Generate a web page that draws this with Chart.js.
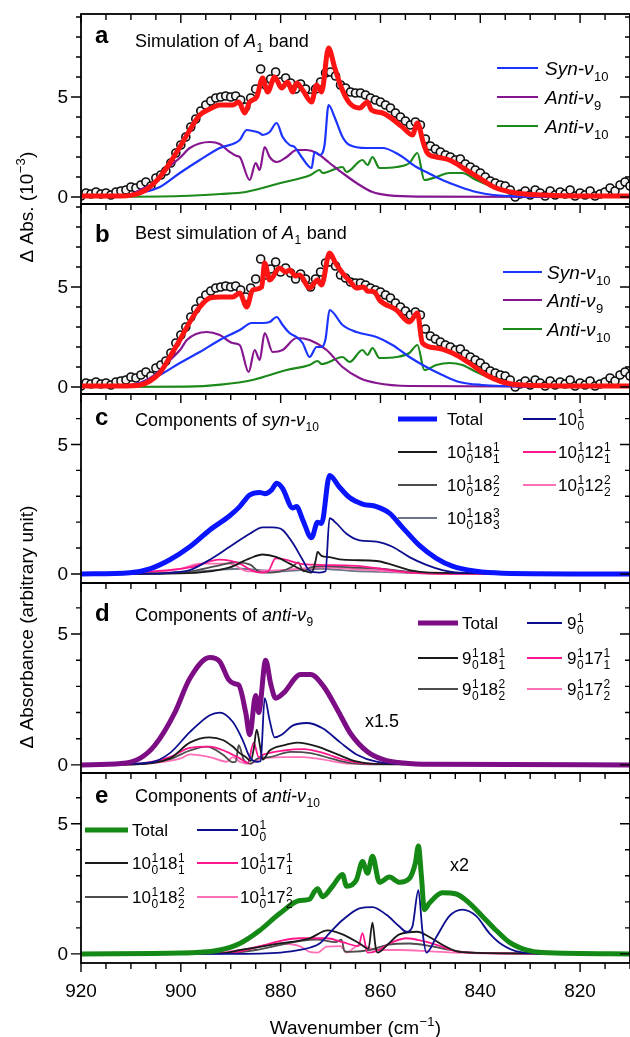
<!DOCTYPE html>
<html>
<head>
<meta charset="utf-8">
<script src="https://cdn.jsdelivr.net/npm/chart.js@4.4.1/dist/chart.umd.min.js"></script>
<style>
html, body { margin: 0; padding: 0; background: #fff; }
#wrap { position: relative; width: 630px; height: 1037px; overflow: hidden; }
#wrap canvas { position: absolute; left: 0; top: 0; }
</style>
</head>
<body>
<div id="wrap">
  <canvas id="pa" width="630" height="1037"></canvas>
  <canvas id="pb" width="630" height="1037"></canvas>
  <canvas id="pc" width="630" height="1037"></canvas>
  <canvas id="pd" width="630" height="1037"></canvas>
  <canvas id="pe" width="630" height="1037"></canvas>
</div>
<script>
// ---- data (wavenumber, value) ----
var xTickLabels = [920, 900, 880, 860, 840, 820];
var yTickLabels = [0, 5];

// experimental points, panels a and b
var expWn = [920,919,918,917,916,915,914,913,912,911,910,909,908,907,906,905,904,903,902,901,
  900,899,898,897,896,895,894,893,892,891,890,889,888,887,886,885,884,883,882,881,
  880,879,878,877,876,875,874,873,872,871,870,869,868,867,866,865,864,863,862,861,
  860,859,858,857,856,855,854,853,852,851,850,849,848,847,846,845,844,843,842,841,
  840,839,838,837,836,835,834,833,832,831,830,829,828,827,826,825,824,823,822,821,
  820,819,818,817,816,815,814,813,812,811,810];
var expAbs = [0.05,0.2,0.15,0.25,0.15,0.2,0.1,0.25,0.3,0.35,0.5,0.45,0.6,0.75,0.55,0.95,1.1,1.3,1.7,2.2,
  2.6,3.0,3.5,3.9,4.3,4.6,4.8,4.95,5.0,5.05,5.0,5.05,4.85,4.5,4.95,5.4,6.4,5.6,5.9,6.25,
  5.75,5.95,5.7,5.4,5.65,5.4,5.0,5.4,5.75,6.2,6.25,6.05,5.6,5.45,5.25,5.2,5.2,5.1,4.95,4.85,
  4.75,4.6,4.45,4.2,4.0,3.8,3.6,3.75,3.6,2.9,2.55,2.4,2.25,2.1,2.0,1.85,1.9,1.65,1.5,1.35,
  1.2,1.0,0.8,0.7,0.6,0.55,0.35,0.0,0.15,0.3,0.1,0.35,0.2,0.05,0.3,0.1,0.25,0.15,0.35,0.05,
  0.2,0.1,0.3,0.05,0.15,0.25,0.45,0.3,0.6,0.75,0.55];

// panel a
var aTotal = [[920,0.05],[912,0.05],[908.2,0.2],[906.2,0.5],[904.2,1.0],[902.2,1.7],[900.2,2.5],[898.2,3.35],[896.2,4.1],[894.2,4.4],[892.2,4.6],[889.6,4.6],[888.4,4.75],[887.2,4.2],[886.2,4.75],[884.8,5.0],[883.6,5.95],[882.6,5.25],[881.2,6.0],[879.8,5.45],[878.6,5.75],[877.6,5.25],[876.8,5.7],[875.6,5.35],[873.8,4.75],[872.8,5.6],[871.8,5.25],[870.4,7.45],[869.2,6.5],[867.8,5.45],[866.2,4.7],[864.2,4.45],[862.6,4.75],[861.8,4.35],[859.6,4.2],[855.6,3.5],[853.6,3.1],[852.6,3.7],[851.4,2.7],[850.6,2.2],[848.8,2.0],[846.2,1.85],[842.8,1.35],[839.6,0.85],[836.8,0.45],[832.8,0.2],[827.6,0.1],[820,0.05],[810,0.05]];
var aSyn10 = [[920,0],[912,0.03],[908.2,0.2],[904.2,0.5],[900.2,1.2],[896.2,1.85],[892.2,2.45],[888.2,2.85],[886.8,3.35],[885.6,3.3],[884.2,3.2],[883.6,3.1],[882.2,3.25],[880.8,3.7],[879.6,3.0],[878.2,2.6],[877.2,2.5],[875.8,2.0],[873.8,1.45],[873.2,2.25],[872.2,2.1],[871.2,2.6],[870.4,4.6],[869.2,4.0],[867.6,3.0],[866.2,2.6],[862.8,2.45],[859.6,2.45],[856.2,2.1],[852.8,1.5],[850.8,1.25],[847.6,0.85],[844,0.5],[840.8,0.25],[837.4,0.1],[830,0.02],[810,0]];
var aAnti9 = [[920,0],[914,0.03],[910,0.15],[908.2,0.35],[905,0.8],[902.8,1.4],[900,2.0],[898.2,2.45],[894.2,2.75],[892.2,2.65],[890.2,2.25],[888.8,2.05],[888.2,2.0],[886.2,0.85],[885,1.7],[884.2,1.35],[883.2,2.5],[882.2,2.0],[880.8,1.75],[878.8,2.0],[876.8,2.35],[874.8,2.35],[872.8,2.2],[870.2,1.7],[867.6,1.2],[864.8,0.7],[861.6,0.25],[858.2,0.08],[852,0.02],[810,0]];
var aAnti10 = [[920,0],[900,0.05],[892,0.15],[887,0.25],[880,0.7],[874,1.1],[872.2,1.35],[871.6,1.2],[867.6,1.5],[866.8,1.25],[863.6,1.85],[862.6,1.6],[861.6,2.0],[860.2,1.45],[856.8,1.5],[854.2,1.7],[852.6,2.2],[851.2,0.85],[848.8,1.0],[846.2,1.2],[843.6,1.2],[840.8,0.85],[836.8,0.45],[832.8,0.2],[827.6,0.1],[810,0.02]];

// panel b
var bTotal = [[920,0.05],[912,0.05],[908.2,0.1],[906.2,0.3],[904.2,0.7],[902.2,1.5],[900.2,2.35],[898.2,3.25],[896.2,4.0],[894.2,4.45],[892,4.5],[889.6,4.5],[888.2,4.7],[886.8,4.0],[885.6,4.85],[883.8,5.0],[883.2,6.2],[882.2,5.35],[880.2,5.95],[879,5.75],[878.2,5.85],[877,5.55],[876.2,5.6],[874.2,4.95],[872.6,5.35],[871.8,5.1],[870.2,6.7],[869,6.2],[867.6,5.7],[866,5.25],[864.8,4.95],[863.4,5.0],[862.6,4.8],[861.2,4.75],[860.2,4.35],[856.8,3.85],[854.2,3.25],[852.6,3.7],[851.6,2.2],[848.8,1.95],[845.6,1.7],[842.2,1.2],[838.8,0.6],[835.6,0.25],[831.6,0.1],[820,0.05],[810,0.05]];
var bSyn10 = [[920,0],[912,0.03],[908.2,0.2],[904.2,0.6],[900.2,1.2],[896.2,1.75],[892.2,2.35],[888.2,2.85],[885.8,3.2],[883.6,3.2],[882.2,3.25],[880.8,3.5],[879.6,3.1],[878.2,2.7],[876.8,2.5],[875.6,2.2],[874.2,1.5],[872.8,2.0],[871.8,2.0],[871,2.4],[870.2,3.85],[867.6,3.1],[864.8,2.75],[860.8,2.5],[857.6,2.1],[854.2,1.5],[850.8,1.0],[847.6,0.6],[844.2,0.25],[839.6,0.1],[830,0.02],[810,0]];
var bAnti9 = [[920,0],[914,0.03],[910,0.1],[908.2,0.2],[905,0.65],[902.8,1.2],[900,1.9],[898.8,2.35],[894.8,2.75],[892.2,2.6],[889.6,2.2],[888.2,2.1],[886.4,0.75],[885.2,1.85],[884.2,1.35],[883.2,2.7],[881.6,1.75],[879.6,1.85],[876.8,2.45],[874.2,2.35],[870.8,1.85],[867.6,1.0],[864.2,0.45],[860.8,0.2],[854.2,0.05],[810,0]];
var bAnti10 = [[920,0],[898.8,0.02],[892,0.12],[885.6,0.35],[878.8,0.85],[874.2,1.1],[872.6,1.3],[871.8,1.15],[870.8,1.2],[867.6,1.5],[866.2,1.25],[863.6,1.85],[862.6,1.6],[861.6,1.95],[860.2,1.45],[856.8,1.5],[854.2,1.7],[852.6,2.1],[851.2,0.85],[848.8,1.1],[846.2,1.2],[843.6,1.1],[840.8,0.75],[836.8,0.35],[832.8,0.15],[830,0.1],[810,0.02]];

// panel c, components of syn-v10
var cTotal = [[920,0],[910.2,0.05],[906.2,0.2],[902.2,0.55],[898.2,1.05],[894.2,1.7],[890.2,2.25],[888.2,2.6],[886.2,3.05],[884.2,3.15],[883.2,3.1],[881.8,3.25],[880.8,3.5],[879.6,3.3],[877.6,2.55],[876.8,2.6],[875.6,2.1],[873.8,1.4],[872.6,2.0],[871.8,1.95],[870.2,3.8],[868.2,3.35],[866.2,2.95],[863.6,2.7],[860.8,2.6],[858.2,2.35],[855.6,1.8],[852.2,1.1],[848.8,0.6],[845.6,0.3],[840.8,0.1],[835.6,0.03],[810,0]];
var c10 = [[920,0],[905,0.01],[902,0.05],[898.2,0.15],[894.2,0.55],[890.2,1.05],[886.2,1.55],[883.6,1.8],[881.6,1.8],[879.6,1.7],[877.6,1.2],[875.6,0.55],[874.2,0.12],[872.2,0.05],[871,0.1],[870.2,2.15],[868.8,1.95],[866.8,1.55],[864.2,1.3],[860.8,1.25],[857.6,1.05],[854.2,0.65],[850.8,0.35],[847.6,0.15],[844.2,0.05],[810,0]];
var c18a = [[920,0],[900,0.02],[894.2,0.1],[890.2,0.25],[886.2,0.6],[883.6,0.75],[880.8,0.65],[878.2,0.4],[876.2,0.2],[873.8,0.05],[873,0.5],[872.6,0.85],[871.8,0.7],[870.2,0.65],[867.6,0.55],[860.8,0.5],[857.6,0.35],[854.2,0.15],[850.2,0.05],[810,0]];
var c18b = [[920,0],[905,0.02],[898,0.1],[893,0.3],[889,0.45],[886,0.35],[884.5,0.1],[883,0.05],[880,0.1],[877.5,0.3],[876.5,0.45],[875.4,0.1],[874,0.25],[871,0.3],[866,0.25],[860,0.2],[855,0.1],[850,0.03],[810,0]];
var c18c = [[920,0],[905,0.01],[900,0.05],[893,0.15],[888,0.2],[884,0.15],[880,0.1],[876,0.15],[872,0.2],[866,0.12],[860,0.08],[850,0.02],[810,0]];
var c12a = [[920,0],[910,0.05],[898.2,0.25],[892.2,0.55],[888.2,0.4],[885.4,0.1],[883.6,0.05],[882.5,0.1],[881,0.6],[879,0.55],[876.2,0.4],[872.2,0.35],[867,0.33],[864.2,0.3],[860.8,0.22],[854.2,0.05],[845,0],[810,0]];
var c12b = [[920,0],[910,0.02],[900,0.2],[896.2,0.4],[890.2,0.4],[886.6,0.1],[884,0.12],[880,0.15],[876,0.2],[872,0.25],[866,0.2],[860,0.12],[852,0.04],[845,0],[810,0]];

// panel d, components of anti-v9 (x1.5)
var dTotal = [[920,0],[912,0.05],[908.2,0.25],[905.2,0.75],[901.2,2.0],[898.2,3.3],[894.2,4.1],[892.2,3.95],[890.4,3.25],[889.2,3.1],[888.4,3.05],[887,2.0],[886.2,1.15],[885,2.65],[884.4,2.0],[883,4.0],[882,3.1],[881,2.55],[879.4,2.75],[876,3.45],[874,3.45],[871.4,3.0],[868.6,2.1],[866,1.2],[862.6,0.5],[859.4,0.2],[855.4,0.07],[850,0.02],[810,0]];
var d9 = [[920,0],[906,0.1],[902.2,0.45],[898.2,1.25],[894.2,1.9],[892.2,2.0],[889.6,1.65],[887.6,0.95],[886.2,0.3],[884.8,0.12],[884,0.15],[883.2,2.55],[882.2,1.7],[881.2,1.05],[879.8,1.15],[877.6,1.5],[874.8,1.6],[871.6,1.4],[868,0.85],[864.8,0.4],[860.8,0.12],[855,0.03],[810,0]];
var d18a = [[920,0],[910,0.02],[902.2,0.25],[898.2,0.85],[894.2,1.05],[891.6,0.95],[889.6,0.7],[888.2,0.45],[887,0.3],[886,0.15],[885.4,0.6],[884.8,1.35],[884.2,0.8],[883.6,0.2],[882.2,0.55],[879.4,0.75],[876.6,0.85],[872.6,0.7],[868.6,0.4],[864.6,0.12],[860,0.03],[810,0]];
var d18b = [[920,0],[910,0.02],[902.2,0.22],[898.2,0.55],[894.8,0.7],[891.6,0.4],[889.6,0.1],[889,0.12],[888.4,0.75],[887.4,0.2],[886,0.05],[884.6,0.25],[882.2,0.3],[878,0.5],[874,0.45],[870,0.25],[866,0.07],[860,0.02],[810,0]];
var d17a = [[920,0],[910,0.02],[902.2,0.3],[898.2,0.65],[894.2,0.7],[890.8,0.5],[888.2,0.25],[886.6,0.08],[885.4,0.85],[884.4,0.3],[883.4,0.4],[879.4,0.55],[875.4,0.6],[871.4,0.45],[867.4,0.2],[863,0.05],[810,0]];
var d17b = [[920,0],[910,0.02],[900,0.25],[898.2,0.4],[894.2,0.3],[890.8,0.12],[889.6,0.3],[888.2,0.12],[886.2,0.04],[884.2,0.22],[879.4,0.3],[875.4,0.3],[871.4,0.2],[866,0.05],[810,0]];

// panel e, components of anti-v10 (x2)
var eTotal = [[920,0],[900,0.03],[896.2,0.06],[892.2,0.15],[888.2,0.4],[884.2,0.9],[880.2,1.55],[876.2,2.05],[874.2,2.1],[873.2,2.4],[872.6,2.5],[871.6,2.2],[869.6,2.6],[867.6,3.05],[866.8,2.6],[864.8,2.85],[863.6,3.55],[862.6,3.1],[861.6,3.75],[860.2,2.75],[858.2,2.95],[856.2,2.75],[854.2,2.9],[853,3.5],[852.4,4.15],[851.8,3.0],[851.2,1.7],[850.2,1.95],[847.6,2.35],[844.8,2.3],[842.2,1.95],[839.6,1.45],[836.8,0.9],[834.2,0.45],[830.8,0.15],[827.6,0.05],[810,0]];
var e10 = [[920,0],[890,0],[880,0.05],[876.2,0.15],[872.2,0.4],[870.2,0.8],[867.6,1.3],[864.2,1.75],[861.6,1.8],[858.8,1.5],[856.2,1.05],[854.8,0.85],[853.6,1.05],[852.4,2.45],[851.6,0.9],[850.8,0.05],[848.8,0.65],[846.2,1.45],[843.6,1.7],[840.8,1.45],[838.2,0.8],[835.6,0.35],[832.2,0.08],[825,0],[810,0]];
var e18a = [[920,0],[892,0.02],[888,0.15],[880.2,0.4],[874.2,0.6],[870.6,0.9],[867.6,0.75],[864.2,0.4],[862.4,0.2],[861.6,1.2],[861,0.3],[860.6,0.05],[858.6,0.35],[856.2,0.75],[852.6,0.85],[850.2,0.65],[847.6,0.35],[844.2,0.08],[835,0.02],[810,0]];
var e18b = [[920,0],[892,0.02],[885,0.15],[880,0.35],[876,0.5],[872.6,0.55],[869,0.45],[867.8,0.55],[867.2,0.1],[866,0.08],[862,0.15],[858.6,0.35],[854.2,0.4],[850,0.3],[846,0.15],[842,0.05],[810,0]];
var e17a = [[920,0],[896,0.02],[888,0.1],[884,0.3],[880,0.5],[876.2,0.6],[870.8,0.6],[867.6,0.45],[864.4,0.3],[863.6,0.8],[862.6,0.05],[861,0.1],[857.6,0.45],[854.8,0.6],[851.6,0.5],[848.8,0.35],[844,0.08],[835,0.02],[810,0]];
var e17b = [[920,0],[896,0.02],[888,0.15],[880.2,0.4],[876.2,0.3],[874.2,0.08],[872.6,0.05],[870.8,0.28],[868,0.3],[866.8,0.05],[864.2,0.35],[860.8,0.15],[856,0.15],[850,0.1],[845,0.05],[835,0.01],[810,0]];

// ---- look ----
var FONT = '"Liberation Sans", Arial, Helvetica, sans-serif';
var H = 1037, LEFT = 81;
var RED = '#ff1414', BLUE = '#1c34ff', PURPLE = '#85168f', GREEN = '#1b8a1b';
var NAVY = '#0d0d8f', BLACK = '#1a1a1a', DGRAY = '#4d4d4d', SLATE = '#6c7486', MAG = '#ff168c', PINK = '#ff6fb7';
var TBLUE = '#0a14ff', TPURPLE = '#7c0d85', TGREEN = '#158915';

Chart.defaults.font.family = FONT;
Chart.defaults.color = '#000';

function pts(arr) {
    return arr.map(function(p) { return { x: p[0], y: p[1] }; });
}
function lineSet(arr, color, w, order) {
    return { data: pts(arr), borderColor: color, borderWidth: w, pointRadius: 0, fill: false,
        order: order, cubicInterpolationMode: 'monotone', borderJoinStyle: 'round', borderCapStyle: 'round' };
}
function expSet() {
    return {
        data: expWn.map(function(w, i) { return { x: w, y: expAbs[i] }; }),
        showLine: false, pointRadius: 4, pointBorderWidth: 1.6,
        pointBorderColor: '#0d0d0d', pointBackgroundColor: '#f2f2f2', order: 20
    };
}

// text with stacked sub/superscripts; parts: 'str' | {t, i} | {sup, sub}
function drawRich(ctx, parts, x, y, size, opt) {
    opt = opt || {};
    var cx = x;
    parts.forEach(function(p) {
        if (typeof p === 'string') p = { t: p };
        if (p.t) {
            ctx.font = (p.i ? 'italic ' : '') + (opt.bold ? 'bold ' : '') + size + 'px ' + FONT;
            if (!opt.measure) ctx.fillText(p.t, cx, y);
            cx += ctx.measureText(p.t).width;
        }
        if (p.sup || p.sub) {
            var s = Math.round(size * 0.68), w = 0;
            ctx.font = s + 'px ' + FONT;
            if (p.sup) {
                if (!opt.measure) ctx.fillText(p.sup, cx + 0.5, y - size * 0.42);
                w = Math.max(w, ctx.measureText(p.sup).width);
            }
            if (p.sub) {
                if (!opt.measure) ctx.fillText(p.sub, cx + 0.5, y + size * 0.3);
                w = Math.max(w, ctx.measureText(p.sub).width);
            }
            cx += w + 1;
        }
    });
    return cx - x;
}

var decorPlugin = {
    id: 'decor',
    afterDraw: function(chart, args, o) {
        var ctx = chart.ctx, a = chart.chartArea, xs = chart.scales.x, ys = chart.scales.y;
        ctx.save();
        ctx.strokeStyle = '#000';
        ctx.lineWidth = 1.8;
        ctx.strokeRect(a.left, a.top, a.right - a.left, a.bottom - a.top);
        ctx.lineWidth = 1.4;
        ctx.beginPath();
        for (var v = 810; v <= 920; v += 5) {
            var px = xs.getPixelForValue(v), L = (v % 20 === 0) ? 9 : 6;
            ctx.moveTo(px, a.top); ctx.lineTo(px, a.top + L);
            if (o.bottomTicks) { ctx.moveTo(px, a.bottom); ctx.lineTo(px, a.bottom + L); }
        }
        for (var t = Math.ceil(ys.min); t <= Math.floor(ys.max); t++) {
            var py = ys.getPixelForValue(t), M = (t % 5 === 0) ? 10 : 5;
            ctx.moveTo(a.left - M, py); ctx.lineTo(a.left, py);
            ctx.moveTo(a.right - M, py); ctx.lineTo(a.right, py);
        }
        ctx.stroke();

        // y tick labels, right-aligned left of the axis
        ctx.fillStyle = '#000';
        ctx.font = '19px ' + FONT;
        ctx.textAlign = 'right';
        ctx.textBaseline = 'middle';
        yTickLabels.forEach(function(v) {
            ctx.fillText(String(v), a.left - 13, ys.getPixelForValue(v) + 1);
        });
        ctx.textAlign = 'left';
        ctx.textBaseline = 'alphabetic';

        ctx.font = 'bold 24px ' + FONT;
        ctx.fillText(o.letter, 95, o.letterY);
        drawRich(ctx, o.title, 135, o.titleY, o.titleSize);

        (o.legend || []).forEach(function(e) {
            ctx.strokeStyle = e.color;
            ctx.lineWidth = e.w;
            ctx.beginPath();
            ctx.moveTo(e.x1, e.y); ctx.lineTo(e.x2, e.y);
            ctx.stroke();
            ctx.fillStyle = '#000';
            drawRich(ctx, e.label, e.tx, e.y + o.legSize * 0.36, o.legSize);
        });
        (o.notes || []).forEach(function(n) {
            ctx.font = n.size + 'px ' + FONT;
            ctx.fillText(n.text, n.x, n.y);
        });
        (o.yTitles || []).forEach(function(yt) {
            ctx.save();
            ctx.translate(yt.x, yt.y);
            ctx.rotate(-Math.PI / 2);
            var w = drawRich(ctx, yt.parts, 0, 0, 19, { measure: true });
            drawRich(ctx, yt.parts, -w / 2, 7, 19);
            ctx.restore();
        });
        if (o.xTitle) {
            var wx = drawRich(ctx, o.xTitle, 0, 0, 19, { measure: true });
            drawRich(ctx, o.xTitle, (a.left + a.right) / 2 - wx / 2, 1034, 19);
        }
        ctx.restore();
    }
};

function makeChart(id, p, datasets, decor) {
    var showX = !!p.showX;
    return new Chart(document.getElementById(id), {
        type: 'line',
        data: { datasets: datasets },
        options: {
            responsive: false, animation: false, devicePixelRatio: 1,
            layout: { autoPadding: false, padding: { top: p.top, bottom: showX ? 0 : H - p.bottom, left: 0, right: 0 } },
            plugins: { legend: { display: false }, tooltip: { enabled: false }, decor: decor },
            scales: {
                x: {
                    type: 'linear', reverse: true, min: 810, max: 920, display: showX,
                    grid: { display: false, drawTicks: false }, border: { display: false },
                    ticks: { font: { size: 19 }, color: '#000', padding: 17, maxRotation: 0 },
                    afterBuildTicks: function(s) { s.ticks = xTickLabels.map(function(v) { return { value: v }; }); },
                    afterFit: function(s) { if (showX) s.height = H - p.bottom; }
                },
                y: {
                    type: 'linear', min: p.min, max: p.max,
                    grid: { display: false, drawTicks: false }, border: { display: false },
                    ticks: { display: false },
                    afterFit: function(s) { s.width = LEFT; }
                }
            }
        },
        plugins: [decorPlugin]
    });
}

var nu = function(italicWord, sub) { return [{ t: italicWord + 'ν', i: true }, { sub: sub }]; };
var c1 = { sup: '1', sub: '0' };

// panel a
makeChart('pa', { top: 14, bottom: 204, min: -0.35, max: 9.15 }, [
    lineSet(aTotal, RED, 5, 0), lineSet(aSyn10, BLUE, 2.2, 2), lineSet(aAnti9, PURPLE, 2.2, 3),
    lineSet(aAnti10, GREEN, 2.2, 4), expSet()
], {
    letter: 'a', letterY: 43, titleY: 47, titleSize: 18,
    title: ['Simulation of ', { t: 'A', i: true }, { sub: '1' }, ' band'],
    legSize: 19,
    legend: [
        { x1: 497, x2: 538, y: 68, tx: 545, color: BLUE, w: 2.2, label: nu('Syn-', '10') },
        { x1: 497, x2: 538, y: 97, tx: 545, color: PURPLE, w: 2.2, label: nu('Anti-', '9') },
        { x1: 497, x2: 538, y: 126, tx: 545, color: GREEN, w: 2.2, label: nu('Anti-', '10') }
    ],
    yTitles: [{ x: 26, y: 207, parts: ['Δ Abs. (10', { sup: '−3' }, ')'] }]
});

// panel b
makeChart('pb', { top: 204, bottom: 394, min: -0.35, max: 9.15 }, [
    lineSet(bTotal, RED, 5, 0), lineSet(bSyn10, BLUE, 2.2, 2), lineSet(bAnti9, PURPLE, 2.2, 3),
    lineSet(bAnti10, GREEN, 2.2, 4), expSet()
], {
    letter: 'b', letterY: 242, titleY: 239, titleSize: 18,
    title: ['Best simulation of ', { t: 'A', i: true }, { sub: '1' }, ' band'],
    legSize: 19,
    legend: [
        { x1: 503, x2: 542, y: 272, tx: 547, color: BLUE, w: 2.2, label: nu('Syn-', '10') },
        { x1: 503, x2: 542, y: 300, tx: 547, color: PURPLE, w: 2.2, label: nu('Anti-', '9') },
        { x1: 503, x2: 542, y: 329, tx: 547, color: GREEN, w: 2.2, label: nu('Anti-', '10') }
    ]
});

// panel c
makeChart('pc', { top: 394, bottom: 583, min: -0.35, max: 6.95 }, [
    lineSet(cTotal, TBLUE, 5, 0), lineSet(c10, NAVY, 1.8, 1), lineSet(c18a, BLACK, 1.8, 2),
    lineSet(c18b, DGRAY, 1.8, 3), lineSet(c18c, SLATE, 1.8, 4), lineSet(c12a, MAG, 1.8, 2),
    lineSet(c12b, PINK, 1.8, 3)
], {
    letter: 'c', letterY: 425, titleY: 426, titleSize: 18,
    title: ['Components of ', { t: 'syn-ν', i: true }, { sub: '10' }],
    legSize: 17,
    legend: [
        { x1: 398, x2: 437, y: 419, tx: 447, color: TBLUE, w: 5, label: ['Total'] },
        { x1: 523, x2: 556, y: 419, tx: 558, color: NAVY, w: 1.8, label: ['10', c1] },
        { x1: 398, x2: 437, y: 452, tx: 447, color: BLACK, w: 1.8, label: ['10', c1, '18', { sup: '1', sub: '1' }] },
        { x1: 523, x2: 556, y: 452, tx: 558, color: MAG, w: 1.8, label: ['10', c1, '12', { sup: '1', sub: '1' }] },
        { x1: 398, x2: 437, y: 485, tx: 447, color: DGRAY, w: 1.8, label: ['10', c1, '18', { sup: '2', sub: '2' }] },
        { x1: 523, x2: 556, y: 485, tx: 558, color: PINK, w: 1.8, label: ['10', c1, '12', { sup: '2', sub: '2' }] },
        { x1: 398, x2: 437, y: 518, tx: 447, color: SLATE, w: 1.8, label: ['10', c1, '18', { sup: '3', sub: '3' }] }
    ],
    yTitles: [{ x: 26, y: 627, parts: ['Δ Absorbance (arbitrary unit)'] }]
});

// panel d
makeChart('pd', { top: 583, bottom: 773, min: -0.31, max: 6.95 }, [
    lineSet(dTotal, TPURPLE, 5, 0), lineSet(d9, NAVY, 1.8, 1), lineSet(d18a, BLACK, 1.8, 2),
    lineSet(d18b, DGRAY, 1.8, 3), lineSet(d17a, MAG, 1.8, 2), lineSet(d17b, PINK, 1.8, 3)
], {
    letter: 'd', letterY: 621, titleY: 621, titleSize: 18,
    title: ['Components of ', { t: 'anti-ν', i: true }, { sub: '9' }],
    legSize: 17,
    legend: [
        { x1: 418, x2: 458, y: 623, tx: 462, color: TPURPLE, w: 5, label: ['Total'] },
        { x1: 527, x2: 562, y: 623, tx: 567, color: NAVY, w: 1.8, label: ['9', c1] },
        { x1: 418, x2: 458, y: 658, tx: 462, color: BLACK, w: 1.8, label: ['9', c1, '18', { sup: '1', sub: '1' }] },
        { x1: 527, x2: 562, y: 658, tx: 567, color: MAG, w: 1.8, label: ['9', c1, '17', { sup: '1', sub: '1' }] },
        { x1: 418, x2: 458, y: 689, tx: 462, color: DGRAY, w: 1.8, label: ['9', c1, '18', { sup: '2', sub: '2' }] },
        { x1: 527, x2: 562, y: 689, tx: 567, color: PINK, w: 1.8, label: ['9', c1, '17', { sup: '2', sub: '2' }] }
    ],
    notes: [{ text: 'x1.5', x: 365, y: 727, size: 18 }]
});

// panel e
makeChart('pe', { top: 773, bottom: 963, min: -0.35, max: 6.95, showX: true }, [
    lineSet(eTotal, TGREEN, 5, 0), lineSet(e10, NAVY, 1.8, 1), lineSet(e18a, BLACK, 1.8, 2),
    lineSet(e18b, DGRAY, 1.8, 3), lineSet(e17a, MAG, 1.8, 2), lineSet(e17b, PINK, 1.8, 3)
], {
    letter: 'e', letterY: 803, titleY: 802, titleSize: 18,
    title: ['Components of ', { t: 'anti-ν', i: true }, { sub: '10' }],
    legSize: 17,
    bottomTicks: true,
    legend: [
        { x1: 85, x2: 128, y: 830, tx: 132, color: TGREEN, w: 5, label: ['Total'] },
        { x1: 197, x2: 238, y: 830, tx: 240, color: NAVY, w: 1.8, label: ['10', c1] },
        { x1: 85, x2: 128, y: 863, tx: 132, color: BLACK, w: 1.8, label: ['10', c1, '18', { sup: '1', sub: '1' }] },
        { x1: 197, x2: 238, y: 863, tx: 240, color: MAG, w: 1.8, label: ['10', c1, '17', { sup: '1', sub: '1' }] },
        { x1: 85, x2: 128, y: 897, tx: 132, color: DGRAY, w: 1.8, label: ['10', c1, '18', { sup: '2', sub: '2' }] },
        { x1: 197, x2: 238, y: 897, tx: 240, color: PINK, w: 1.8, label: ['10', c1, '17', { sup: '2', sub: '2' }] }
    ],
    notes: [{ text: 'x2', x: 450, y: 871, size: 18 }],
    xTitle: ['Wavenumber (cm', { sup: '−1' }, ')']
});
</script>
</body>
</html>
